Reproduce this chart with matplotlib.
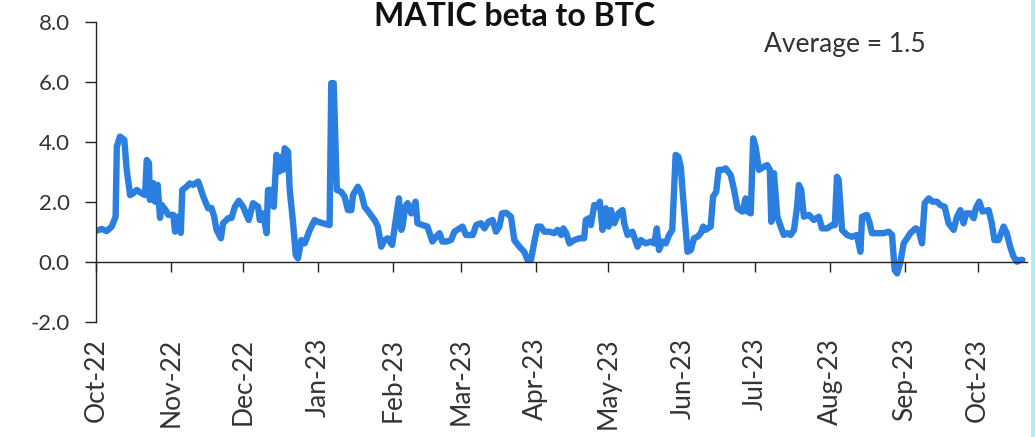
import matplotlib
matplotlib.use("Agg")
import matplotlib.pyplot as plt
import matplotlib.dates as mdates
from matplotlib.patches import Rectangle
import pandas as pd

start_date = "2022-10-01"
# days since start_date
day_offset = [
    0, 2.4, 4.4, 6.5, 8.1, 8.6, 9.9, 11.7, 12.7, 14.1, 15.4, 16.8, 18.9, 20.3, 21.0, 21.9,
    22.3, 23.7, 24.4, 25.5, 26.5, 27.2, 28.8, 29.9, 32.0, 32.7, 33.8, 35.1, 35.7, 37.5,
    38.8, 40.2, 42.3, 44.4, 46.4, 47.8, 48.9, 49.9, 51.7, 52.6, 54.7, 56.1, 57.5, 59.1,
    60.9, 63.2, 65.0, 67.1, 67.8, 69.2, 70.6, 71.2, 72.6, 73.6, 74.7, 75.8, 76.8, 77.4,
    78.1, 79.5, 80.2, 81.6, 82.7, 83.6, 85.0, 86.4, 88.5, 90.5, 91.9, 94.0, 96.7, 97.4,
    98.4, 99.7, 101.5, 102.9, 104.3, 105.7, 106.4, 108.4, 109.8, 111.2, 113.3, 115.3,
    116.7, 118.1, 119.5, 120.8, 122.6, 124.3, 125.4, 126.4, 126.9, 128.0, 129.0, 130.5,
    132.3, 133.1, 135.2, 137.2, 139.3, 140.8, 142.2, 143.4, 145.0, 147.0, 148.4, 150.5,
    151.7, 153.2, 156.0, 157.4, 159.4, 160.8, 162.5, 164.2, 165.6, 167.0, 168.1, 169.8,
    171.8, 173.2, 175.3, 177.3, 178.7, 180.1, 181.5, 182.8, 184.2, 185.6, 187.7, 189.7,
    191.1, 192.6, 193.5, 194.7, 196.0, 198.0, 200.1, 202.1, 202.8, 204.2, 204.9, 206.3,
    207.6, 208.6, 209.7, 211.1, 212.2, 213.2, 214.6, 216.3, 218.0, 218.7, 220.1, 222.1,
    224.2, 225.6, 227.6, 229.7, 231.1, 232.2, 233.1, 234.5, 235.9, 237.3, 238.6, 240.0,
    241.1, 242.1, 243.5, 244.9, 246.3, 247.6, 249.0, 250.4, 251.4, 252.4, 254.5, 255.5,
    256.8, 257.8, 259.3, 260.7, 262.8, 264.2, 265.6, 267.6, 269.0, 269.7, 271.1, 272.1,
    273.1, 274.5, 276.6, 277.9, 279.0, 279.6, 280.7, 282.1, 283.5, 284.8, 286.2, 287.6,
    289.0, 290.3, 291.0, 292.0, 293.1, 295.2, 297.2, 299.3, 300.6, 302.7, 304.8, 305.9,
    306.8, 307.5, 308.9, 311.0, 313.0, 315.1, 316.5, 317.2, 319.2, 320.3, 321.3, 323.4,
    326.1, 328.2, 329.6, 330.7, 331.7, 333.1, 334.4, 335.8, 337.2, 339.3, 340.6, 342.0,
    343.1, 344.8, 346.4, 348.2, 349.6, 351.4, 353.0, 355.1, 356.5, 357.9, 359.2, 360.3,
    362.0, 363.4, 364.3, 365.7, 367.1, 369.6, 370.9, 372.0, 373.7, 375.8, 377.1, 378.5,
    379.9, 381.3, 382.7, 383.6,
]
beta = [
    1.04, 1.10, 1.03, 1.18, 1.51, 3.84, 4.18, 4.07, 3.07, 2.23, 2.29, 2.40, 2.29, 2.23, 3.40, 3.30,
    2.07, 2.63, 2.01, 2.57, 1.47, 1.90, 1.73, 1.57, 1.57, 1.01, 1.51, 0.97, 2.40, 2.51,
    2.62, 2.57, 2.68, 2.18, 1.79, 1.80, 1.51, 1.07, 0.79, 1.29, 1.46, 1.47, 1.84, 2.04,
    1.84, 1.40, 1.96, 1.84, 1.40, 1.62, 0.96, 2.40, 2.40, 1.84, 3.57, 3.01, 3.51, 3.07,
    3.79, 3.68, 2.40, 1.29, 0.23, 0.12, 0.73, 0.62, 1.07, 1.40, 1.34, 1.29, 1.23, 5.96,
    5.96, 2.40, 2.34, 2.18, 1.73, 1.73, 2.23, 2.51, 2.29, 1.84, 1.62, 1.40,
    1.18, 0.51, 0.73, 0.79, 0.57, 1.51, 2.12, 1.07, 1.18, 1.84, 1.96, 1.62,
    2.01, 1.29, 1.23, 1.18, 0.68, 0.84, 0.96, 0.68, 0.68, 0.73, 1.01, 1.12,
    1.18, 0.90, 0.90, 1.23, 1.29, 1.12, 1.34, 1.40, 1.01, 1.18, 1.62, 1.64,
    1.51, 0.73, 0.51, 0.34, 0.07, 0.07, 0.68, 1.18, 1.18, 1.01, 1.01, 0.96,
    1.07, 0.90, 1.12, 0.96, 0.62, 0.73, 0.79, 0.79, 1.40, 1.46, 1.23, 1.90,
    1.84, 2.01, 1.07, 1.79, 1.18, 1.73, 1.29, 1.62, 1.73, 1.29, 0.90, 1.01,
    0.51, 0.73, 0.62, 0.68, 0.62, 1.12, 0.40, 0.68, 0.62, 0.90, 1.07, 3.57,
    3.51, 3.18, 1.73, 0.34, 0.40, 0.79, 0.84, 0.96, 1.18, 1.07, 1.18, 2.18,
    2.34, 3.07, 3.07, 3.12, 2.90, 2.40, 1.79, 1.68, 2.12, 1.68, 1.62, 4.12,
    3.84, 3.07, 3.18, 3.23, 3.07, 1.34, 2.96, 1.51, 1.18, 0.90, 0.96, 0.90,
    1.07, 1.84, 2.57, 2.40, 1.51, 1.57, 1.40, 1.51, 1.12, 1.12, 1.23, 1.23,
    2.84, 2.73, 1.07, 0.90, 0.84, 0.90, 0.34, 1.51, 1.57, 1.30, 0.96, 0.96,
    0.96, 1.01, 0.90, -0.27, -0.38, 0.01, 0.62, 0.79, 0.96, 1.12, 1.07, 0.62,
    1.96, 2.12, 2.01, 2.01, 1.90, 1.84, 1.29, 1.07, 1.51, 1.73, 1.29, 1.62,
    1.62, 1.46, 1.79, 2.01, 1.68, 1.73, 1.29, 0.73, 0.73, 1.18, 0.96, 0.51,
    0.18, 0.01, 0.07, 0.07,
]
month_ticks = pd.date_range("2022-10-01", "2023-10-01", freq="MS")
y_ticks = [-2.0, 0.0, 2.0, 4.0, 6.0, 8.0]
title_text = "MATIC beta to BTC"
average_text = "Average = 1.5"

dates = pd.Timestamp(start_date) + pd.to_timedelta(day_offset, unit="D")

plt.rcParams["font.family"] = ["Lato", "DejaVu Sans"]

fig = plt.figure(figsize=(10.35, 4.37), dpi=100)
fig.patch.set_facecolor("white")
ax = fig.add_axes([0.0928, 0.2632, 0.8995, 0.6865])

ax.plot(dates, beta, color="#2B7FE0", lw=4.6, solid_joinstyle="round", solid_capstyle="round")

ax.set_ylim(-2, 8)
ax.set_yticks(y_ticks)
ax.yaxis.set_major_formatter(matplotlib.ticker.FormatStrFormatter("%.1f"))
ax.set_xlim(pd.Timestamp(start_date), pd.Timestamp(start_date) + pd.Timedelta(days=385.5))
ax.set_xticks(month_ticks)
ax.xaxis.set_major_formatter(mdates.DateFormatter("%b-%y"))

for s in ["top", "right"]:
    ax.spines[s].set_visible(False)
ax.spines["bottom"].set_position(("data", 0))
ax.spines["bottom"].set_color("#222222")
ax.spines["left"].set_color("#222222")
ax.spines["bottom"].set_linewidth(1.0)
ax.spines["left"].set_linewidth(1.0)

ax.tick_params(axis="y", direction="out", length=8, width=1.0, pad=11,
               labelsize=16, colors="#222222", labelcolor="#333333")
ax.tick_params(axis="x", direction="out", length=7.5, width=1.0, pad=47,
               labelsize=19, colors="#222222", labelcolor="#333333", labelrotation=90)

fig.text(0.4976, 0.962, title_text, ha="center", va="center", fontsize=23, fontweight="bold", color="#111111")
fig.text(0.816, 0.899, average_text, ha="center", va="center", fontsize=19, color="#333333")

fig.patches.append(Rectangle((1031 / 1035, 0), 4 / 1035, 1, transform=fig.transFigure,
                             facecolor="#B2EBF2", edgecolor="none"))

fig.savefig("out.png", dpi=100, facecolor="white")
